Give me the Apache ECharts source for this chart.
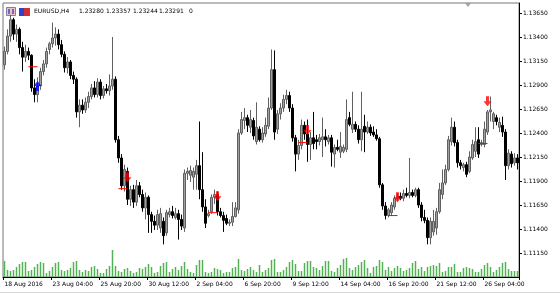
<!DOCTYPE html>
<html><head><meta charset="utf-8">
<script src="https://cdn.jsdelivr.net/npm/echarts@6/dist/echarts.min.js"></script>
<style>html,body{margin:0;padding:0;background:#fff;}#c{width:560px;height:294px;}</style>
</head><body><div id="c"></div>
<script>
// ---- header text ----
const symbolLabel = 'EURUSD,H4';
const headerValues = ['1.23280', '1.23357', '1.23244', '1.23291', '0'];

// ---- time axis ----
const firstBarUTC = [2016, 7, 18, 12];   // 18 Aug 2016 12:00, H4 bars
const barCount = 172;
const tickEvery = 16;
const tickLabels = ['18 Aug 2016', '23 Aug 04:00', '25 Aug 20:00', '30 Aug 12:00', '2 Sep 04:00',
  '6 Sep 20:00', '9 Sep 12:00', '14 Sep 04:00', '16 Sep 20:00', '21 Sep 12:00', '26 Sep 04:00'];

// ---- price axis ----
const priceMin = 1.10900, priceMax = 1.137542, priceStep = 0.0025;

// ---- OHLC (x1e-4) ----
const open = [11311,11325,11341,11358,11343,11348,11329,11319,11325,11321,11287,11280,11289,11304,11312,11327,11333,11339,11343,11332,
11322,11308,11314,11300,11296,11262,11269,11264,11272,11278,11287,11280,11293,11279,11286,11284,11289,11296,11233,11214,
11185,11200,11171,11181,11168,11185,11176,11162,11173,11155,11148,11144,11141,11148,11136,11155,11158,11152,11156,11150,
11141,11198,11196,11194,11197,11206,11181,11163,11154,11158,11173,11176,11158,11154,11151,11146,11147,11153,11160,11240,
11253,11256,11246,11253,11231,11244,11233,11239,11247,11266,11306,11244,11260,11266,11275,11279,11266,11235,11218,11227,
11248,11239,11228,11235,11233,11231,11233,11236,11231,11235,11218,11225,11220,11221,11223,11256,11244,11249,11244,11233,
11247,11241,11246,11241,11238,11234,11186,11164,11154,11157,11163,11172,11174,11172,11177,11175,11178,11175,11181,11165,
11152,11149,11131,11137,11141,11158,11176,11188,11202,11231,11246,11230,11209,11204,11207,11200,11214,11221,11233,11228,
11228,11241,11262,11252,11256,11246,11248,11241,11206,11218,11209,11214];
const high = [11330,11348,11363,11360,11353,11350,11335,11332,11329,11322,11296,11298,11308,11316,11329,11335,11355,11350,11348,11337,
11325,11319,11316,11304,11298,11275,11275,11277,11283,11291,11294,11297,11296,11289,11291,11301,11340,11299,11237,11218,
11207,11204,11185,11186,11191,11189,11181,11178,11175,11158,11154,11160,11162,11152,11160,11162,11164,11162,11160,11155,
11202,11204,11206,11204,11212,11252,11220,11171,11160,11176,11181,11179,11162,11158,11155,11150,11168,11168,11244,11262,
11266,11259,11264,11256,11272,11247,11246,11256,11277,11327,11326,11264,11271,11280,11285,11283,11270,11238,11233,11254,
11252,11254,11241,11262,11238,11239,11256,11244,11238,11238,11228,11233,11241,11228,11275,11262,11283,11252,11248,11283,
11259,11252,11249,11247,11244,11236,11188,11168,11162,11168,11175,11177,11178,11181,11183,11214,11181,11183,11183,11168,
11160,11152,11152,11160,11162,11188,11202,11207,11237,11256,11252,11233,11212,11209,11210,11221,11233,11246,11246,11233,
11252,11264,11278,11262,11259,11256,11257,11244,11223,11221,11219,11218];
const low = [11306,11322,11335,11337,11335,11322,11304,11314,11316,11283,11272,11272,11285,11300,11308,11322,11329,11331,11327,11319,
11303,11302,11296,11291,11256,11246,11260,11261,11266,11275,11277,11277,11275,11276,11281,11279,11285,11230,11209,11181,
11179,11165,11164,11162,11164,11173,11158,11150,11136,11136,11139,11139,11136,11124,11133,11152,11151,11150,11129,11139,
11137,11191,11189,11181,11181,11171,11158,11141,11152,11156,11166,11154,11152,11137,11144,11143,11143,11152,11156,11238,
11244,11241,11240,11233,11228,11231,11230,11236,11244,11264,11233,11239,11254,11262,11270,11262,11231,11200,11212,11223,
11233,11210,11212,11223,11223,11227,11215,11226,11228,11205,11204,11221,11214,11219,11220,11247,11240,11241,11229,11221,
11220,11239,11237,11236,11232,11183,11160,11150,11152,11154,11160,11169,11170,11169,11173,11172,11173,11173,11162,11148,
11146,11124,11124,11133,11134,11156,11171,11186,11200,11227,11226,11204,11202,11200,11194,11198,11212,11215,11214,11226,
11225,11238,11252,11244,11248,11241,11236,11191,11202,11204,11206,11202];
const close = [11325,11341,11358,11343,11348,11329,11319,11325,11321,11287,11280,11289,11304,11312,11325,11333,11339,11343,11332,11322,
11308,11314,11300,11296,11262,11269,11264,11272,11278,11287,11280,11293,11279,11286,11284,11289,11296,11233,11214,11185,
11202,11171,11181,11168,11185,11176,11162,11173,11155,11148,11144,11155,11156,11133,11157,11158,11154,11156,11150,11143,
11198,11200,11201,11200,11206,11181,11163,11146,11156,11173,11176,11158,11154,11149,11146,11147,11153,11162,11240,11254,
11256,11248,11254,11237,11246,11233,11240,11248,11266,11306,11241,11260,11266,11275,11279,11266,11235,11218,11227,11248,
11239,11228,11235,11229,11231,11235,11236,11233,11235,11220,11225,11223,11226,11225,11254,11249,11249,11244,11233,11244,
11241,11246,11240,11238,11234,11186,11164,11154,11160,11165,11172,11174,11172,11177,11175,11178,11175,11181,11165,11152,
11149,11131,11148,11148,11158,11181,11188,11202,11233,11246,11230,11209,11206,11207,11197,11215,11228,11231,11218,11230,
11244,11262,11264,11260,11252,11251,11241,11206,11219,11208,11214,11209];

// ---- tick volume ----
const volume = [3200,1400,1200,1400,2000,2600,3000,3000,1200,1400,2000,2600,3000,2800,800,1200,2000,2800,3000,1400,
1200,1400,1800,3000,3200,1400,1000,1400,1200,2000,2200,1600,800,800,1600,2200,5400,2200,1200,1000,
1600,1800,1200,800,1000,1800,1600,2000,2600,2000,800,1000,2200,2800,3000,1000,1600,2000,1400,2200,
3000,1600,1000,800,2400,3400,3400,1000,800,1000,1800,1600,1400,800,1000,1000,1800,2000,3600,1400,
1200,1600,2000,1400,1000,2400,1000,1400,1800,3400,3600,1000,1000,1400,2000,3000,3400,2600,1200,1200,
2800,3200,3200,2000,1800,1400,2200,3200,3200,1200,1000,1800,2400,3600,3800,1800,1400,2000,2400,3000,
3400,1800,800,2000,2200,3400,3000,1400,2000,1200,1800,2200,1800,1200,1400,1800,2800,3200,1600,2000,
1200,2000,2200,2400,2200,2800,1000,1200,2000,2000,2600,1000,1000,1800,2000,1800,1600,1000,1000,1600,
2400,2800,2000,1000,1400,2000,2800,3000,1600,1200,1200,1200];
const volumeAxisMax = 10000;

// ---- signals (arrows) and level lines ----
const signalBars = [11, 41, 71, 101, 131, 161];
const signalPrices = [1.1289, 1.1194, 1.1174, 1.1243, 1.1173, 1.1273];
const signalKinds = ['buy', 'sell', 'sell', 'sell', 'sell', 'sell'];
const levelStartBars = [8, 38, 68, 98, 128, 158];
const levelEndBars = [11, 41, 71, 101, 131, 161];
const levelPrices = [1.1309, 1.1182, 1.1157, 1.1230, 1.1154, 1.1229];

// ---- build categories (H4, weekdays only) ----
const categories = [];
{
  let t = Date.UTC(firstBarUTC[0], firstBarUTC[1], firstBarUTC[2], firstBarUTC[3]);
  while (categories.length < barCount) {
    const wd = new Date(t).getUTCDay();
    if (wd !== 0 && wd !== 6) categories.push(String(t));
    t += 4 * 3600 * 1000;
  }
}
const ohlc = open.map((o, i) => [o / 1e4, close[i] / 1e4, low[i] / 1e4, high[i] / 1e4]);

const FONT = 'DejaVu Sans';
const downArrow = 'path://M2.5,0H5.5V5H8L4,10L0,5H2.5Z';
const upArrow = 'path://M4,0L8,5H5.5V10H2.5V5H0Z';

const chart = echarts.init(document.getElementById('c'), null, {renderer: 'canvas'});
const headerX = [79, 106, 133, 159, 189];
const graphics = [
  {type: 'rect', shape: {x: 6.5, y: 7.5, width: 9, height: 8}, style: {fill: '#f0c0c8', stroke: '#8080a0', lineWidth: 1}},
  {type: 'rect', shape: {x: 8, y: 9, width: 2, height: 5}, style: {fill: '#6070c0'}},
  {type: 'rect', shape: {x: 12, y: 9, width: 2, height: 5}, style: {fill: '#6070c0'}},
  {type: 'rect', shape: {x: 19, y: 8, width: 5, height: 8}, style: {fill: '#3040d0'}},
  {type: 'rect', shape: {x: 24, y: 8, width: 6, height: 8}, style: {fill: '#d03030'}},
  {type: 'text', x: 34, y: 11, style: {text: symbolLabel, font: '6px "DejaVu Sans"', fill: '#000', verticalAlign: 'middle'}},
  {type: 'polygon', shape: {points: [[465, 3], [471, 3], [468, 7]]}, style: {fill: '#a0a0a0'}},
  {type: 'line', shape: {x1: 0, y1: 292.5, x2: 560, y2: 292.5}, style: {stroke: '#d8d8d8', lineWidth: 1}}
];
headerValues.forEach((v, i) => graphics.push({type: 'text', x: headerX[i], y: 11,
  style: {text: v, font: '6px "DejaVu Sans"', fill: '#000', verticalAlign: 'middle'}}));

const levelSeries = levelPrices.map((p, i) => ({
  type: 'line', xAxisIndex: 0, yAxisIndex: 0, z: 10, silent: true, showSymbol: false, symbol: 'none',
  lineStyle: {color: '#ff0000', width: 1}, data: [[levelStartBars[i], p], [levelEndBars[i], p]]
}));

chart.setOption({
  animation: false,
  backgroundColor: '#fff',
  grid: [
    {left: 3, right: 41, top: 3, bottom: 17, show: true, borderColor: '#777', borderWidth: 1, backgroundColor: 'transparent'},
    {left: 3, right: 41, bottom: 17, height: 50}
  ],
  xAxis: [
    {type: 'category', gridIndex: 0, data: categories, boundaryGap: true,
     axisLine: {show: true, lineStyle: {color: '#000', width: 1}},
     axisTick: {show: true, interval: tickEvery - 1, length: 3, lineStyle: {color: '#000'}},
     axisLabel: {show: true, interval: tickEvery - 1, align: 'left', margin: 4, fontSize: 6, fontFamily: FONT, color: '#000',
       formatter: (v, i) => tickLabels[Math.round(i / tickEvery)] || ''},
     splitLine: {show: false}},
    {type: 'category', gridIndex: 1, data: categories, boundaryGap: true, show: false}
  ],
  yAxis: [
    {type: 'value', gridIndex: 0, position: 'right', min: priceMin, max: priceMax, interval: priceStep,
     axisLine: {show: true, lineStyle: {color: '#000', width: 1}},
     axisTick: {show: true, length: 3, lineStyle: {color: '#000'}},
     axisLabel: {show: true, margin: 4, fontSize: 6, fontFamily: FONT, color: '#000', showMinLabel: false, showMaxLabel: false,
       formatter: v => v.toFixed(5)},
     splitLine: {show: false}},
    {type: 'value', gridIndex: 1, min: 0, max: volumeAxisMax, show: false, splitLine: {show: false}}
  ],
  graphic: graphics,
  series: [
    {type: 'bar', xAxisIndex: 1, yAxisIndex: 1, data: volume, barWidth: 1.5, itemStyle: {color: '#54b054'}, silent: true},
    {type: 'candlestick', xAxisIndex: 0, yAxisIndex: 0, data: ohlc, barWidth: 1.6,
     itemStyle: {color: '#a0a0a0', color0: '#000', borderColor: '#606060', borderColor0: '#000', borderWidth: 1}}
  ].concat(levelSeries).concat([
    {type: 'scatter', xAxisIndex: 0, yAxisIndex: 0, symbol: upArrow, symbolSize: [8, 10], z: 11,
     itemStyle: {color: '#0000ff'},
     data: signalBars.map((b, i) => signalKinds[i] === 'buy' ? [b, signalPrices[i]] : null).filter(Boolean)},
    {type: 'scatter', xAxisIndex: 0, yAxisIndex: 0, symbol: downArrow, symbolSize: [8, 10], z: 11,
     itemStyle: {color: '#ff0000'},
     data: signalBars.map((b, i) => signalKinds[i] === 'sell' ? [b, signalPrices[i]] : null).filter(Boolean)}
  ])
});
</script></body></html>
